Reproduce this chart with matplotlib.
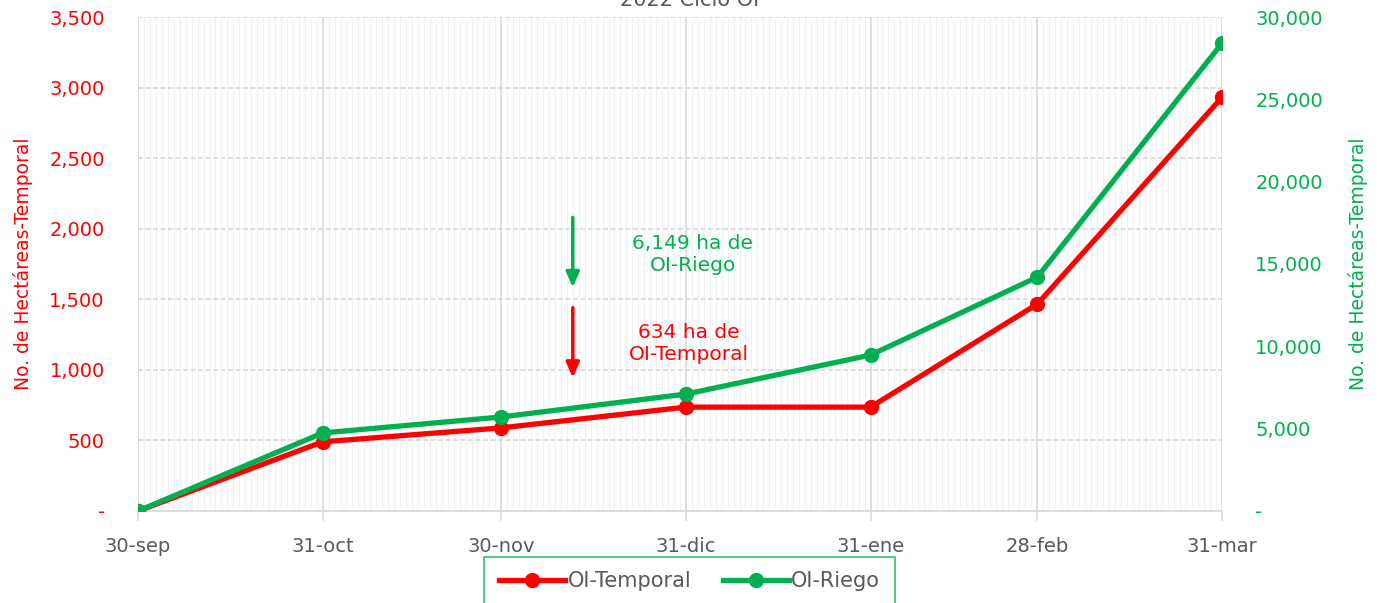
import numpy as np
import matplotlib.pyplot as plt
import matplotlib.dates as mdates
from matplotlib.ticker import FuncFormatter, MultipleLocator

plt.rcParams['font.family'] = ['DejaVu Sans']

# datos
fechas = np.array(['2021-09-30', '2021-10-31', '2021-11-30', '2021-12-31',
                   '2022-01-31', '2022-02-28', '2022-03-31'], dtype='datetime64[D]')
etiquetas = ['30-sep', '31-oct', '30-nov', '31-dic', '31-ene', '28-feb', '31-mar']
temporal = [0, 490, 589, 736, 736, 1466, 2930]
riego = [0, 4740, 5710, 7100, 9470, 14200, 28400]

rojo = '#FF0000'
verde = '#00B050'
gris = '#595959'

fig = plt.figure(figsize=(13.79, 6.03), dpi=100)
ax = fig.add_axes([0.1001, 0.1526, 0.7860, 0.8192])
ax2 = ax.twinx()

x = fechas.astype('O')
ax.plot(x, temporal, color=rojo, lw=3.8, marker='o', ms=10, label='OI-Temporal', zorder=5)
ax2.plot(x, riego, color=verde, lw=3.8, marker='o', ms=10, label='OI-Riego', zorder=5)

ax.set_xlim(x[0], x[-1])
ax.set_ylim(0, 3500)
ax2.set_ylim(0, 30000)
ax.yaxis.set_major_locator(MultipleLocator(500))
ax2.yaxis.set_major_locator(MultipleLocator(5000))

fmt = FuncFormatter(lambda v, p: '-' if v == 0 else f'{v:,.0f}')
ax.yaxis.set_major_formatter(fmt)
ax2.yaxis.set_major_formatter(fmt)

ax.set_xticks(x)
ax.set_xticklabels(etiquetas)
ax.xaxis.set_minor_locator(mdates.DayLocator())

ax.grid(which='minor', axis='x', color='#F2F2F2', lw=1)
ax.grid(which='major', axis='x', color='#D9D9D9', lw=1.2)
ax.grid(which='major', axis='y', color='#D9D9D9', lw=1.2, ls=(0, (3, 1.5)))
ax.set_axisbelow(True)

for a in (ax, ax2):
    for s in a.spines.values():
        s.set_visible(False)
ax.spines['bottom'].set_visible(True)
ax.spines['bottom'].set_color('#D9D9D9')
ax.spines['bottom'].set_linewidth(1.2)

ax.tick_params(axis='x', which='major', length=7, color='#D9D9D9', width=1.2,
               labelsize=14, labelcolor=gris, pad=12)
ax.tick_params(axis='x', which='minor', length=0)
ax.tick_params(axis='y', length=0, labelsize=14, labelcolor=rojo, pad=24)
ax2.tick_params(axis='y', length=0, labelsize=14, labelcolor=verde, pad=24)

ax.set_ylabel('No. de Hectáreas-Temporal', color=rojo, fontsize=13.5, labelpad=12)
ax2.set_ylabel('No. de Hectáreas-Temporal', color=verde, fontsize=13.5, labelpad=18)

fig.text(0.5, 0.99, '2022 Ciclo OI', ha='center', va='baseline', fontsize=15, color=gris)

# anotaciones
flecha = mdates.date2num(np.datetime64('2021-12-12').astype('O'))
ax.annotate('', xy=(flecha, 1565), xytext=(flecha, 2100),
            arrowprops=dict(arrowstyle='-|>,head_length=0.9,head_width=0.4', color=verde, lw=2.5))
ax.annotate('', xy=(flecha, 925), xytext=(flecha, 1460),
            arrowprops=dict(arrowstyle='-|>,head_length=0.9,head_width=0.4', color=rojo, lw=2.5))
ax.text(0.512, 0.52, '6,149 ha de\nOI-Riego', transform=ax.transAxes, ha='center',
        va='center', color=verde, fontsize=14.5, linespacing=1.2)
ax.text(0.508, 0.34, '634 ha de\nOI-Temporal', transform=ax.transAxes, ha='center',
        va='center', color=rojo, fontsize=14.5, linespacing=1.2)

h1, l1 = ax.get_legend_handles_labels()
h2, l2 = ax2.get_legend_handles_labels()
leg = fig.legend(h1 + h2, l1 + l2, loc='upper center', bbox_to_anchor=(0.5, 0.077),
                 ncol=2, fontsize=15, frameon=True, fancybox=False, handlelength=3.2,
                 borderpad=0.7, columnspacing=1.5, handletextpad=0.1, borderaxespad=0)
leg.get_frame().set_edgecolor(verde)
leg.get_frame().set_linewidth(1.2)
for t in leg.get_texts():
    t.set_color(gris)

fig.savefig('out.png', dpi=100)
